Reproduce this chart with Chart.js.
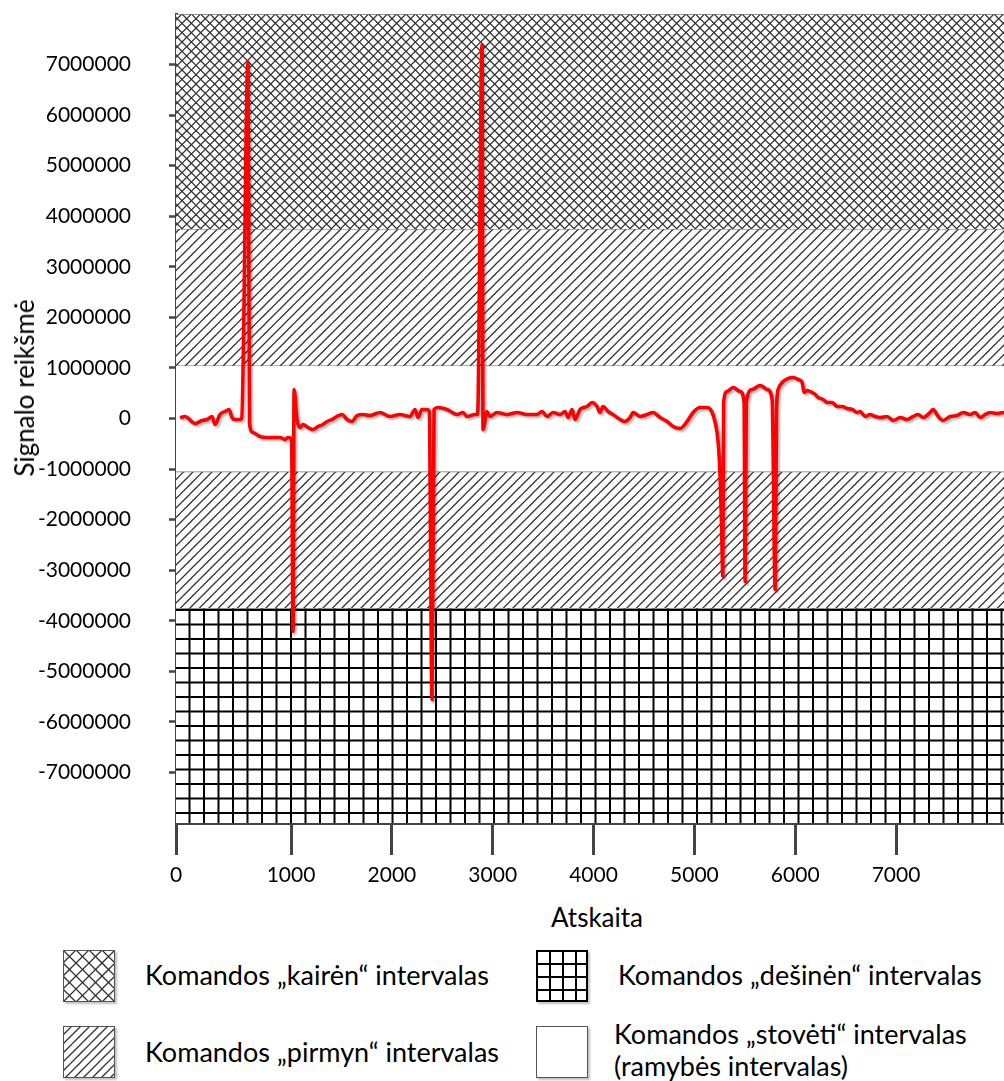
<!DOCTYPE html>
<html>
<head>
<meta charset="utf-8">
<script src="https://cdn.jsdelivr.net/npm/chart.js@4.4.1/dist/chart.umd.min.js"></script>
<style>
html,body{margin:0;padding:0;background:#fff;overflow:hidden;width:1004px;height:1081px;}
#wrap{position:absolute;left:0;top:0;width:1016px;height:900px;}
.t{position:absolute;font-family:Lato,'Open Sans',sans-serif;color:#000;white-space:nowrap;line-height:32px;}
.sw{position:absolute;width:52px;height:52px;box-shadow:2px 2px 2px rgba(0,0,0,0.25);}
</style>
</head>
<body>
<div id="wrap"><canvas id="c" width="1016" height="900"></canvas></div>
<div class="t" id="xtitle" style="left:597px;top:901px;font-size:26px;transform:translateX(-50%);">Atskaita</div>
<div class="t" id="ytitle" style="left:24px;top:388px;font-size:26px;transform:translate(-50%,-50%) rotate(-90deg);">Signalo reikšmė</div>

<canvas class="sw" id="sw0" width="52" height="52" style="left:63px;top:950px;"></canvas>
<div class="t" style="left:145px;top:959px;font-size:27px;">Komandos „kairėn“ intervalas</div>
<canvas class="sw" id="sw1" width="52" height="52" style="left:63px;top:1026px;"></canvas>
<div class="t" style="left:145px;top:1036px;font-size:27px;">Komandos „pirmyn“ intervalas</div>
<canvas class="sw" id="sw2" width="52" height="52" style="left:536px;top:950px;"></canvas>
<div class="t" style="left:618px;top:959px;font-size:27px;">Komandos „dešinėn“ intervalas</div>
<canvas class="sw" id="sw3" width="52" height="52" style="left:536px;top:1026px;"></canvas>
<div class="t" style="left:614px;top:1018px;font-size:27px;">Komandos „stovėti“ intervalas<br>(ramybės intervalas)</div>

<script>
// ---- data ----
const sampleX = [-101,-52,48,117,167,216,246,295,345,385,414,444,494,510,573,588,623,692,791,891,940,970,1005,1020,1030,
  1059,1089,1119,1168,1218,1267,1317,1357,1406,1456,1506,1555,1605,1654,1714,1783,1882,1981,2080,2179,2229,2259,2298,2348,2370,2398,2418,
  2457,2547,2646,2705,2745,2824,2850,2894,2904,2943,2973,3043,3142,3241,3340,3439,3489,3539,3598,3668,3717,3747,3787,3816,3866,
  3935,3985,4035,4064,4094,4144,4193,4263,4312,4362,4392,4461,4531,4590,4660,4729,4789,4858,4928,4987,5057,5126,5176,5206,5236,
  5255,5270,5282,5290,5325,5384,5454,5493,5503,5515,5573,5652,5722,5771,5801,5815,5831,5871,5930,5980,6030,6069,6089,6119,6168,
  6198,6228,6277,6317,6367,6416,6466,6515,6565,6615,6644,6694,6743,6793,6843,6912,6972,7041,7110,7170,7219,7269,7338,7368,7418,
  7467,7537,7606,7666,7735,7785,7834,7884,7934,8003,8062,8140];
const signalY = [14000,40000,-99000,-40000,-20000,40000,-119000,79000,138000,178000,20000,-20000,-20000,0,7040000,-100000,-277000,-356000,-376000,-376000,-415000,-376000,-400000,-4212000,574000,
  -20000,-178000,-119000,-178000,-217000,-158000,-119000,-59000,-20000,40000,79000,-20000,-59000,59000,79000,59000,119000,40000,79000,40000,178000,20000,178000,178000,150000,-5557000,178000,
  217000,178000,79000,119000,40000,79000,80000,7396000,-217000,138000,40000,119000,79000,119000,79000,79000,138000,40000,119000,79000,138000,20000,178000,-20000,178000,
  237000,316000,237000,119000,237000,138000,79000,-20000,-59000,20000,119000,40000,79000,119000,20000,-59000,-158000,-198000,-59000,119000,217000,217000,119000,-79000,-475000,
  -1150000,-2150000,-3124000,316000,534000,613000,534000,316000,-3223000,316000,574000,653000,574000,376000,-3382000,178000,574000,712000,791000,811000,771000,712000,514000,554000,514000,
  475000,415000,376000,316000,316000,237000,237000,198000,178000,119000,138000,40000,79000,40000,20000,40000,-40000,20000,-20000,40000,79000,20000,119000,178000,40000,
  -40000,40000,59000,119000,79000,119000,20000,79000,119000,99000,119000,100000];

const xTickValues = [-141,1000,2000,3000,4000,5000,6000,7000];
const xTickLabels = ['0','1000','2000','3000','4000','5000','6000','7000'];
const yTickValues = [-7000000,-6000000,-5000000,-4000000,-3000000,-2000000,-1000000,0,1000000,2000000,3000000,4000000,5000000,6000000,7000000];
const xRange = [-141, 8150];
const yRange = [-8000000, 8000000];

const bandNames = ['Komandos „kairėn“ intervalas','Komandos „pirmyn“ intervalas','Komandos „stovėti“ intervalas','Komandos „pirmyn“ intervalas','Komandos „dešinėn“ intervalas'];
const bandLow  = [3750000, 1050000, -1050000, -3750000, -8000000];
const bandHigh = [8000000, 3750000, 1050000, -1050000, -3750000];
const bandKinds = ['kairen','pirmyn','stoveti','pirmyn','desinen'];

// ---- patterns ----
function makePattern(kind, p, ctxTarget) {
  if (kind === 'stoveti') return '#ffffff';
  const T = kind === 'kairen' ? Math.round(p*3) : Math.round(p*2);
  const step = T / (kind === 'kairen' ? 3 : 2);
  const cv = document.createElement('canvas');
  cv.width = T; cv.height = T;
  const g = cv.getContext('2d');
  g.fillStyle = '#fff'; g.fillRect(0,0,T,T);
  if (kind === 'pirmyn' || kind === 'kairen') {
    g.strokeStyle = '#333'; g.lineWidth = 1.25;
    for (let k = -4; k <= 8; k++) {
      const c = k*step;
      g.beginPath(); g.moveTo(c + T, -T); g.lineTo(c - 2*T, 2*T); g.stroke();
      if (kind === 'kairen') { g.beginPath(); g.moveTo(c - T, -T); g.lineTo(c + 2*T, 2*T); g.stroke(); }
    }
  }
  if (kind === 'desinen') {
    g.strokeStyle = '#000'; g.lineWidth = 2;
    for (let k = 0; k < 2; k++) {
      const c = k*step + 1;
      g.beginPath(); g.moveTo(c, 0); g.lineTo(c, T); g.stroke();
      g.beginPath(); g.moveTo(0, c); g.lineTo(T, c); g.stroke();
    }
  }
  return ctxTarget.createPattern(cv, 'repeat');
}

const canvas = document.getElementById('c');
const ctx = canvas.getContext('2d');
const periods = {kairen: 9.33, pirmyn: 9.5, desinen: 14.5, stoveti: 10};
const patterns = {};
for (const k of Object.keys(periods)) patterns[k] = makePattern(k, periods[k], ctx);

const bandDatasets = bandNames.map((name, i) => ({
  label: name,
  data: [{x: xRange[0], y: bandHigh[i]}, {x: xRange[1], y: bandHigh[i]}],
  fill: {value: bandLow[i]},
  backgroundColor: patterns[bandKinds[i]],
  borderColor: '#6f6f6f',
  borderWidth: 1.3,
  pointRadius: 0,
  tension: 0,
  order: 2
}));

const shadowPlugin = {
  id: 'lineShadow',
  beforeDatasetDraw(chart, args) {
    if (chart.data.datasets[args.index].isSignal) {
      const c = chart.ctx; c.save();
      c.shadowColor = 'rgba(0,0,0,0.28)'; c.shadowOffsetX = 2; c.shadowOffsetY = 2; c.shadowBlur = 2;
    }
  },
  afterDatasetDraw(chart, args) {
    if (chart.data.datasets[args.index].isSignal) chart.ctx.restore();
  }
};

const FONT = 'Lato, "Open Sans", sans-serif';

new Chart(ctx, {
  type: 'line',
  data: {
    datasets: [{
      label: 'Signalo reikšmė',
      isSignal: true,
      data: sampleX.map((x, i) => ({x, y: signalY[i]})),
      borderColor: '#ff0000',
      borderWidth: 3.6,
      pointRadius: 0,
      fill: false,
      cubicInterpolationMode: 'monotone',
      order: 1
    }, ...bandDatasets]
  },
  options: {
    responsive: false,
    animation: false,
    events: [],
    layout: {padding: {top: 14, right: 4, left: 0, bottom: 0}},
    plugins: {legend: {display: false}, tooltip: {enabled: false}},
    scales: {
      x: {
        type: 'linear', min: xRange[0], max: xRange[1],
        afterBuildTicks: s => { s.ticks = xTickValues.map(v => ({value: v})); },
        afterFit: s => { s.height = 77; s.paddingLeft = 0; s.paddingRight = 0; },
        ticks: {callback: (v, i) => xTickLabels[i], autoSkip: false, maxRotation: 0, padding: 8,
                font: {family: FONT, size: 21}, color: '#000'},
        grid: {drawOnChartArea: false, drawTicks: true, tickLength: 32, tickWidth: 3, tickColor: '#444'},
        border: {display: true, color: '#444', width: 3}
      },
      y: {
        type: 'linear', min: yRange[0], max: yRange[1],
        afterBuildTicks: s => { s.ticks = yTickValues.map(v => ({value: v})); },
        afterFit: s => { s.width = 176; s.paddingTop = 0; s.paddingBottom = 0; },
        ticks: {callback: v => String(v), autoSkip: false, padding: 38,
                font: {family: FONT, size: 21}, color: '#000'},
        grid: {drawOnChartArea: false, drawTicks: true, tickLength: 7, tickWidth: 2.5, tickColor: '#444'},
        border: {display: true, color: '#444', width: 3}
      }
    }
  },
  plugins: [shadowPlugin]
});

// legend swatches
const swKinds = ['kairen','pirmyn','desinen','stoveti'];
const swPeriods = {kairen: 13, pirmyn: 9, desinen: 13, stoveti: 10};
swKinds.forEach((k, i) => {
  const cv = document.getElementById('sw' + i);
  const g = cv.getContext('2d');
  g.fillStyle = makePattern(k, swPeriods[k], g);
  g.fillRect(0, 0, 52, 52);
  const d = k === 'desinen';
  g.strokeStyle = d ? '#000' : '#555';
  g.lineWidth = d ? 2 : 1;
  g.strokeRect(d ? 1 : 0.5, d ? 1 : 0.5, d ? 50 : 51, d ? 50 : 51);
});
</script>
</body>
</html>
